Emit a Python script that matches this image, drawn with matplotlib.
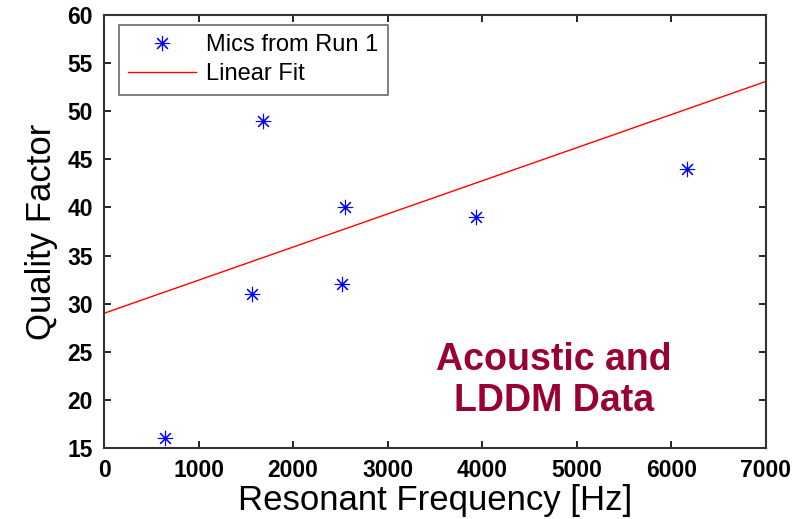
import matplotlib
matplotlib.use('Agg')
import matplotlib.pyplot as plt
import numpy as np

plt.rcParams['font.family'] = ['Liberation Sans', 'DejaVu Sans']

# measured points
freq_hz = [645, 1565, 1681, 2516, 2548, 3932, 6163]
quality = [16, 31, 49, 32, 40, 39, 44]

# linear fit as drawn (end points)
fit_x = [0, 7000]
fit_y = [29.0, 53.1]

x_ticks = list(range(0, 7001, 1000))
y_ticks = list(range(15, 61, 5))

fig = plt.figure(figsize=(7.97, 5.19), dpi=100)
ax = fig.add_axes([0.1305, 0.1368, 0.8305, 0.8342])

ax.plot(fit_x, fit_y, color='#ff0000', linewidth=1.0, label='Linear Fit', zorder=2)
ax.plot(freq_hz, quality, linestyle='none', marker=(8, 2, 0), markersize=11,
        markeredgewidth=0.8, color='#0000ff', label='Mics from Run 1', zorder=3)

ax.set_xlim(0, 7000)
ax.set_ylim(15, 60)
ax.set_xticks(x_ticks)
ax.set_yticks(y_ticks)
ax.tick_params(direction='in', length=5, width=1.2, top=True, right=True,
               labelsize=16.5, pad=8, colors='black')
for lab in ax.get_xticklabels() + ax.get_yticklabels():
    lab.set_fontweight('bold')
for sp in ax.spines.values():
    sp.set_linewidth(1.5)
    sp.set_color('#333333')

ax.set_xlabel('Resonant Frequency [Hz]', fontsize=25, labelpad=1)
ax.set_ylabel('Quality Factor', fontsize=25, labelpad=7)

handles, labels = ax.get_legend_handles_labels()
leg = ax.legend(handles[::-1], labels[::-1], loc='upper left',
                bbox_to_anchor=(0.022, 0.978), fontsize=17, frameon=True,
                fancybox=False, edgecolor='#444444', handlelength=2.9,
                borderpad=0.4, labelspacing=0.3, handletextpad=0.4,
                borderaxespad=0)
leg.get_frame().set_linewidth(1.2)

ax.text(4760, 22.0, 'Acoustic and\nLDDM Data', color='#990033', fontsize=27,
        fontweight='bold', ha='center', va='center', linespacing=1.2)

fig.savefig('out.png', dpi=100)
